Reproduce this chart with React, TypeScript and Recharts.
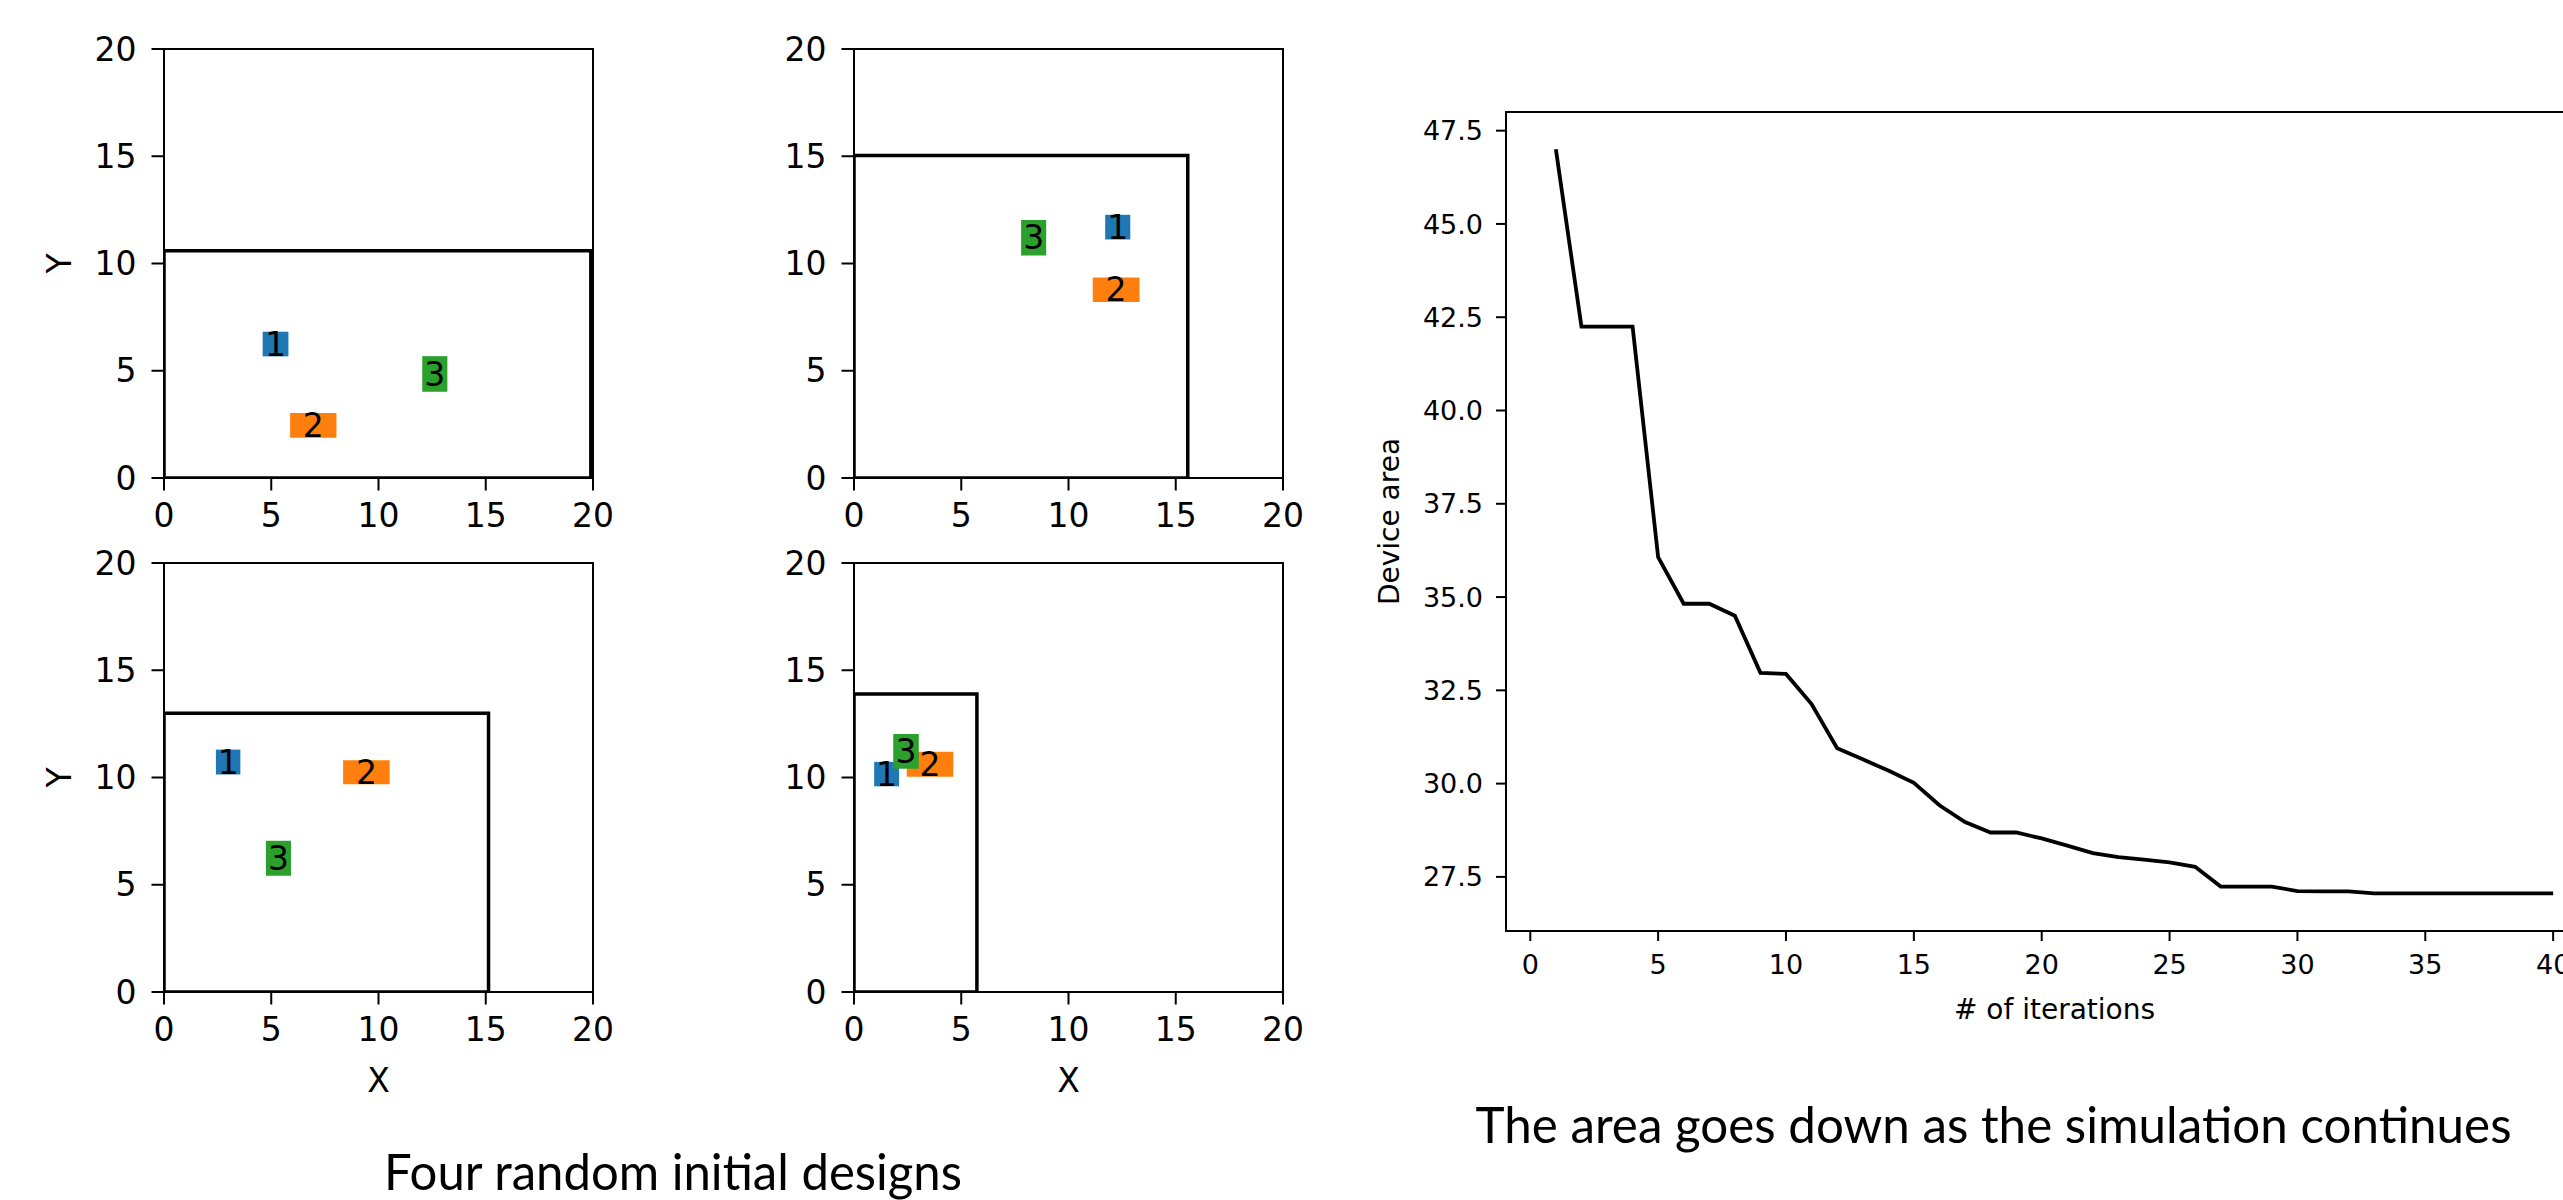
import React from 'react';
import { ComposedChart, LineChart, Line, XAxis, YAxis, ReferenceArea } from 'recharts';

// ---- data ----
const gridTicks = [0, 5, 10, 15, 20];
const blockColors = { '1': '#1f77b4', '2': '#ff7f0e', '3': '#2ca02c' };

const blocksA = [
  { id: '1', x1: 4.6, x2: 5.8, y1: 5.67, y2: 6.82 },
  { id: '2', x1: 5.88, x2: 8.04, y1: 1.88, y2: 3.03 },
  { id: '3', x1: 12.04, x2: 13.21, y1: 4.02, y2: 5.68 },
];
const outlineA = { w: 19.9, h: 10.6 };

const blocksB = [
  { id: '1', x1: 11.71, x2: 12.88, y1: 11.12, y2: 12.27 },
  { id: '2', x1: 11.13, x2: 13.31, y1: 8.2, y2: 9.35 },
  { id: '3', x1: 7.79, x2: 8.96, y1: 10.37, y2: 12.03 },
];
const outlineB = { w: 15.56, h: 15.03 };

const blocksC = [
  { id: '1', x1: 2.42, x2: 3.56, y1: 10.14, y2: 11.3 },
  { id: '2', x1: 8.35, x2: 10.52, y1: 9.68, y2: 10.8 },
  { id: '3', x1: 4.75, x2: 5.92, y1: 5.42, y2: 7.05 },
];
const outlineC = { w: 15.13, h: 12.99 };

const blocksD = [
  { id: '1', x1: 0.94, x2: 2.1, y1: 9.59, y2: 10.73 },
  { id: '2', x1: 2.46, x2: 4.63, y1: 10.04, y2: 11.2 },
  { id: '3', x1: 1.83, x2: 3.02, y1: 10.41, y2: 12.03 },
];
const outlineD = { w: 5.73, h: 13.89 };

const iterations = [
  1, 2, 3, 4, 5, 6, 7, 8, 9, 10, 11, 12, 13, 14, 15, 16, 17, 18, 19, 20,
  21, 22, 23, 24, 25, 26, 27, 28, 29, 30, 31, 32, 33, 34, 35, 36, 37, 38, 39, 40,
];
const deviceArea = [
  47.0, 42.25, 42.25, 42.25, 36.07, 34.82, 34.82, 34.5, 32.97, 32.94,
  32.13, 30.95, 30.65, 30.35, 30.02, 29.42, 28.97, 28.69, 28.69, 28.53,
  28.34, 28.14, 28.03, 27.96, 27.89, 27.77, 27.24, 27.24, 27.24, 27.12,
  27.11, 27.11, 27.06, 27.06, 27.06, 27.06, 27.06, 27.06, 27.06, 27.06,
];
const iterTicks = [0, 5, 10, 15, 20, 25, 30, 35, 40];
const areaTicks = [27.5, 30, 32.5, 35, 37.5, 40, 42.5, 45, 47.5];

const areaData = iterations.map((it, i) => ({ iter: it, area: deviceArea[i] }));

// ---- panels ----
const PLOT = 429;

const Panel = ({ blocks, outline, left, top, yLabel, xLabel }) => {
  const yw = yLabel ? 210 : 150;
  const xh = xLabel ? 176 : 80;
  const pts = [
    { x: 0, y: 0 },
    { x: 0, y: outline.h },
    { x: outline.w, y: outline.h },
    { x: outline.w, y: 0 },
    { x: 0, y: 0 },
  ];
  const ax = { stroke: '#000', strokeWidth: 2 };
  return (
    <div style={{ position: 'absolute', left: left - yw, top: top - 20 }}>
      <ComposedChart
        width={yw + PLOT + 30}
        height={20 + PLOT + xh}
        data={pts}
        margin={{ top: 20, right: 30, bottom: 0, left: 0 }}
      >
        <XAxis
          dataKey="x"
          type="number"
          domain={[0, 20]}
          ticks={gridTicks}
          interval={0}
          allowDataOverflow
          height={xh}
          tickSize={12.5}
          tickMargin={13.5}
          tick={{ fontSize: 33, fill: '#000' }}
          tickLine={ax}
          axisLine={ax}
          label={xLabel ? { value: 'X', position: 'center', fontSize: 33, fill: '#000' } : undefined}
        />
        <YAxis
          type="number"
          domain={[0, 20]}
          ticks={gridTicks}
          interval={0}
          allowDataOverflow
          width={yw}
          tickSize={12.5}
          tickMargin={15}
          tick={{ fontSize: 33, fill: '#000' }}
          tickLine={ax}
          axisLine={ax}
          label={yLabel ? { value: 'Y', angle: -90, position: 'center', fontSize: 33, fill: '#000' } : undefined}
        />
        <ReferenceArea x1={0} x2={20} y1={0} y2={20} fill="none" stroke="#000" strokeWidth={2} ifOverflow="visible" />
        {blocks.map((b) => (
          <ReferenceArea
            key={b.id}
            x1={b.x1}
            x2={b.x2}
            y1={b.y1}
            y2={b.y2}
            fill={blockColors[b.id]}
            fillOpacity={1}
            stroke="none"
            ifOverflow="visible"
            label={{ value: b.id, position: 'center', fontSize: 33, fill: '#000' }}
          />
        ))}
        <Line
          dataKey="y"
          type="linear"
          stroke="#000"
          strokeWidth={3.5}
          dot={false}
          activeDot={false}
          isAnimationActive={false}
        />
      </ComposedChart>
    </div>
  );
};

const AreaPanel = () => {
  const ax = { stroke: '#000', strokeWidth: 2 };
  return (
    <div style={{ position: 'absolute', left: 1272, top: 92 }}>
      <LineChart
        width={234 + 1097 + 20}
        height={20 + 819 + 156}
        data={areaData}
        margin={{ top: 20, right: 20, bottom: 0, left: 0 }}
      >
        <XAxis
          dataKey="iter"
          type="number"
          domain={[-0.95, 41.95]}
          ticks={iterTicks}
          interval={0}
          allowDataOverflow
          height={156}
          tickSize={10}
          tickMargin={14}
          tick={{ fontSize: 27, fill: '#000' }}
          tickLine={ax}
          axisLine={ax}
          label={{ value: '# of iterations', position: 'center', fontSize: 28, fill: '#000' }}
        />
        <YAxis
          type="number"
          domain={[26.05, 48]}
          ticks={areaTicks}
          interval={0}
          allowDataOverflow
          width={234}
          tickSize={10}
          tickMargin={13}
          tickFormatter={(v) => v.toFixed(1)}
          tick={{ fontSize: 27, fill: '#000' }}
          tickLine={ax}
          axisLine={ax}
          label={{ value: 'Device area', angle: -90, position: 'center', fontSize: 28, fill: '#000' }}
        />
        <ReferenceArea x1={-0.95} x2={41.95} y1={26.05} y2={48} fill="none" stroke="#000" strokeWidth={2} ifOverflow="visible" />
        <Line
          dataKey="area"
          type="linear"
          stroke="#000"
          strokeWidth={3.8}
          dot={false}
          activeDot={false}
          isAnimationActive={false}
        />
      </LineChart>
    </div>
  );
};

export default function App() {
  return (
    <div
      style={{
        position: 'fixed',
        left: 0,
        top: 0,
        width: 2563,
        height: 1200,
        overflow: 'hidden',
        background: '#fff',
        fontFamily: 'DejaVu Sans',
      }}
    >
      <Panel blocks={blocksA} outline={outlineA} left={164} top={49} yLabel xLabel={false} />
      <Panel blocks={blocksB} outline={outlineB} left={854} top={49} yLabel={false} xLabel={false} />
      <Panel blocks={blocksC} outline={outlineC} left={164} top={563} yLabel xLabel />
      <Panel blocks={blocksD} outline={outlineD} left={854} top={563} yLabel={false} xLabel />
      <AreaPanel />
      <svg width={2563} height={1200} style={{ position: 'absolute', left: 0, top: 0, pointerEvents: 'none' }}>
        <text
          x={673}
          y={1190}
          textAnchor="middle"
          fontFamily="Lato"
          fontSize={50}
          textLength={578}
          lengthAdjust="spacingAndGlyphs"
          fill="#000"
        >
          Four random initial designs
        </text>
        <text
          x={1993.5}
          y={1143}
          textAnchor="middle"
          fontFamily="Lato"
          fontSize={50}
          textLength={1036}
          lengthAdjust="spacingAndGlyphs"
          fill="#000"
        >
          The area goes down as the simulation continues
        </text>
      </svg>
    </div>
  );
}
